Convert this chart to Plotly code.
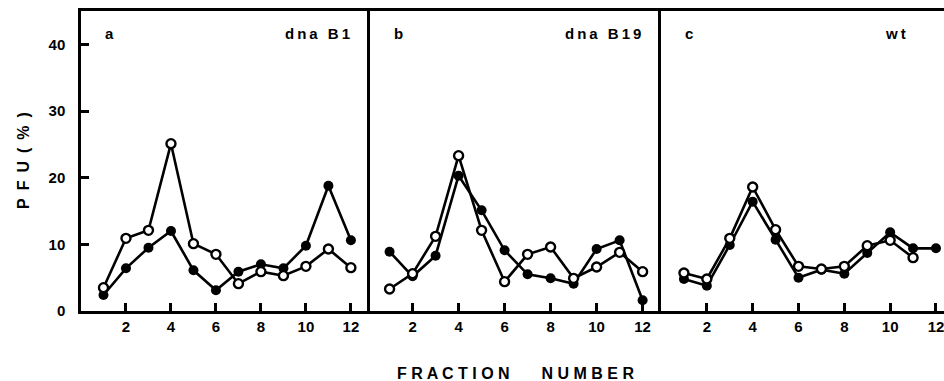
import plotly.graph_objects as go

fractions = list(range(1, 13))

# Panel a: dnaB1
a_open = [3.5, 10.9, 12.1, 25.1, 10.1, 8.5, 4.1, 5.9, 5.3, 6.7, 9.3, 6.5]
a_filled = [2.4, 6.4, 9.5, 12.0, 6.1, 3.1, 5.9, 7.0, 6.4, 9.8, 18.8, 10.6]
# Panel b: dnaB19
b_open = [3.3, 5.6, 11.2, 23.3, 12.1, 4.4, 8.5, 9.6, 4.9, 6.6, 8.8, 5.9]
b_filled = [8.9, 5.2, 8.3, 20.3, 15.1, 9.1, 5.5, 4.9, 4.1, 9.3, 10.6, 1.6]
# Panel c: wt
c_open = [5.7, 4.8, 10.9, 18.6, 12.2, 6.7, 6.3, 6.7, 9.8, 10.6, 8.0]
c_filled = [4.8, 3.8, 9.9, 16.4, 10.7, 5.0, 6.2, 5.6, 8.7, 11.8, 9.4, 9.4]

panel_letters = ["a", "b", "c"]
panel_names = ["dna B1", "dna B19", "wt"]
x_ticks = [2, 4, 6, 8, 10, 12]
y_ticks = [0, 10, 20, 30, 40]

FONT = "Liberation Sans"
fig = go.Figure()

panels = [(a_open, a_filled), (b_open, b_filled), (c_open, c_filled)]
for i, (op, fi) in enumerate(panels):
    xa = "x" if i == 0 else f"x{i+1}"
    ya = "y" if i == 0 else f"y{i+1}"
    fig.add_trace(go.Scatter(
        x=fractions[:len(fi)], y=fi, mode="lines+markers", xaxis=xa, yaxis=ya,
        line=dict(color="black", width=2.6),
        marker=dict(symbol="circle", size=10, color="black"),
        showlegend=False, cliponaxis=False))
    fig.add_trace(go.Scatter(
        x=fractions[:len(op)], y=op, mode="lines+markers", xaxis=xa, yaxis=ya,
        line=dict(color="black", width=2.6),
        marker=dict(symbol="circle", size=9, color="white",
                    line=dict(color="black", width=2.4)),
        showlegend=False, cliponaxis=False))

domains = [[0.0, 0.3349], [0.3349, 0.6721], [0.6721, 1.0]]
xranges = [[0, 12.85], [0.15, 12.8], [0, 12.35]]

layout = dict(
    width=944, height=381,
    margin=dict(l=81, r=0, t=11, b=70),
    paper_bgcolor="white", plot_bgcolor="white",
    font=dict(family=FONT, color="black", size=14, weight="bold"),
)
for i in range(3):
    xk = "xaxis" if i == 0 else f"xaxis{i+1}"
    yk = "yaxis" if i == 0 else f"yaxis{i+1}"
    layout[xk] = dict(
        domain=domains[i], range=xranges[i], anchor="y" if i == 0 else f"y{i+1}",
        tickmode="array", tickvals=x_ticks, ticklabeloverflow="allow",
        ticks="inside", ticklen=8, tickwidth=2.5, tickcolor="black",
        showline=True, linecolor="black", linewidth=2.5, mirror=True,
        showgrid=False, zeroline=False,
        tickfont=dict(family=FONT, size=15, weight="bold"),
    )
    layout[yk] = dict(
        domain=[0, 1], range=[0, 45], anchor="x" if i == 0 else f"x{i+1}",
        tickmode="array", tickvals=y_ticks,
        ticks="inside" if i == 0 else "", ticklen=8, tickwidth=2.5, tickcolor="black",
        showticklabels=(i == 0), ticklabelstandoff=10,
        showline=True, linecolor="black", linewidth=2.5, mirror=False,
        showgrid=False, zeroline=False,
        tickfont=dict(family=FONT, size=15, weight="bold"),
    )
fig.update_layout(**layout)

annotations = []
for i in range(3):
    xr = "x domain" if i == 0 else f"x{i+1} domain"
    yr = "y domain" if i == 0 else f"y{i+1} domain"
    annotations.append(dict(text=panel_letters[i], xref=xr, yref=yr, x=0, y=1,
                            xanchor="left", yanchor="top", xshift=22, yshift=-12,
                            showarrow=False, font=dict(size=15, weight="bold")))
    annotations.append(dict(text="\u2009".join(panel_names[i]), xref=xr, yref=yr,
                            x=1, y=1, xanchor="right", yanchor="top",
                            xshift=-18 if i < 2 else -36, yshift=-12,
                            showarrow=False, font=dict(size=15, weight="bold")))
annotations.append(dict(text="P\u2002F\u2002U\u2002(\u2002%\u2002)", xref="paper", yref="paper",
                        x=0, y=0.5, xanchor="center", yanchor="middle", xshift=-58,
                        textangle=-90, showarrow=False, font=dict(size=16, weight="bold")))
annotations.append(dict(text="F R A C T I O N\u2003\u2003N U M B E R",
                        xref="paper", yref="paper", x=0.504, y=0, xanchor="center",
                        yanchor="middle", yshift=-62, showarrow=False,
                        font=dict(size=16, weight="bold")))
fig.update_layout(annotations=annotations)

fig.write_html("out.html")
